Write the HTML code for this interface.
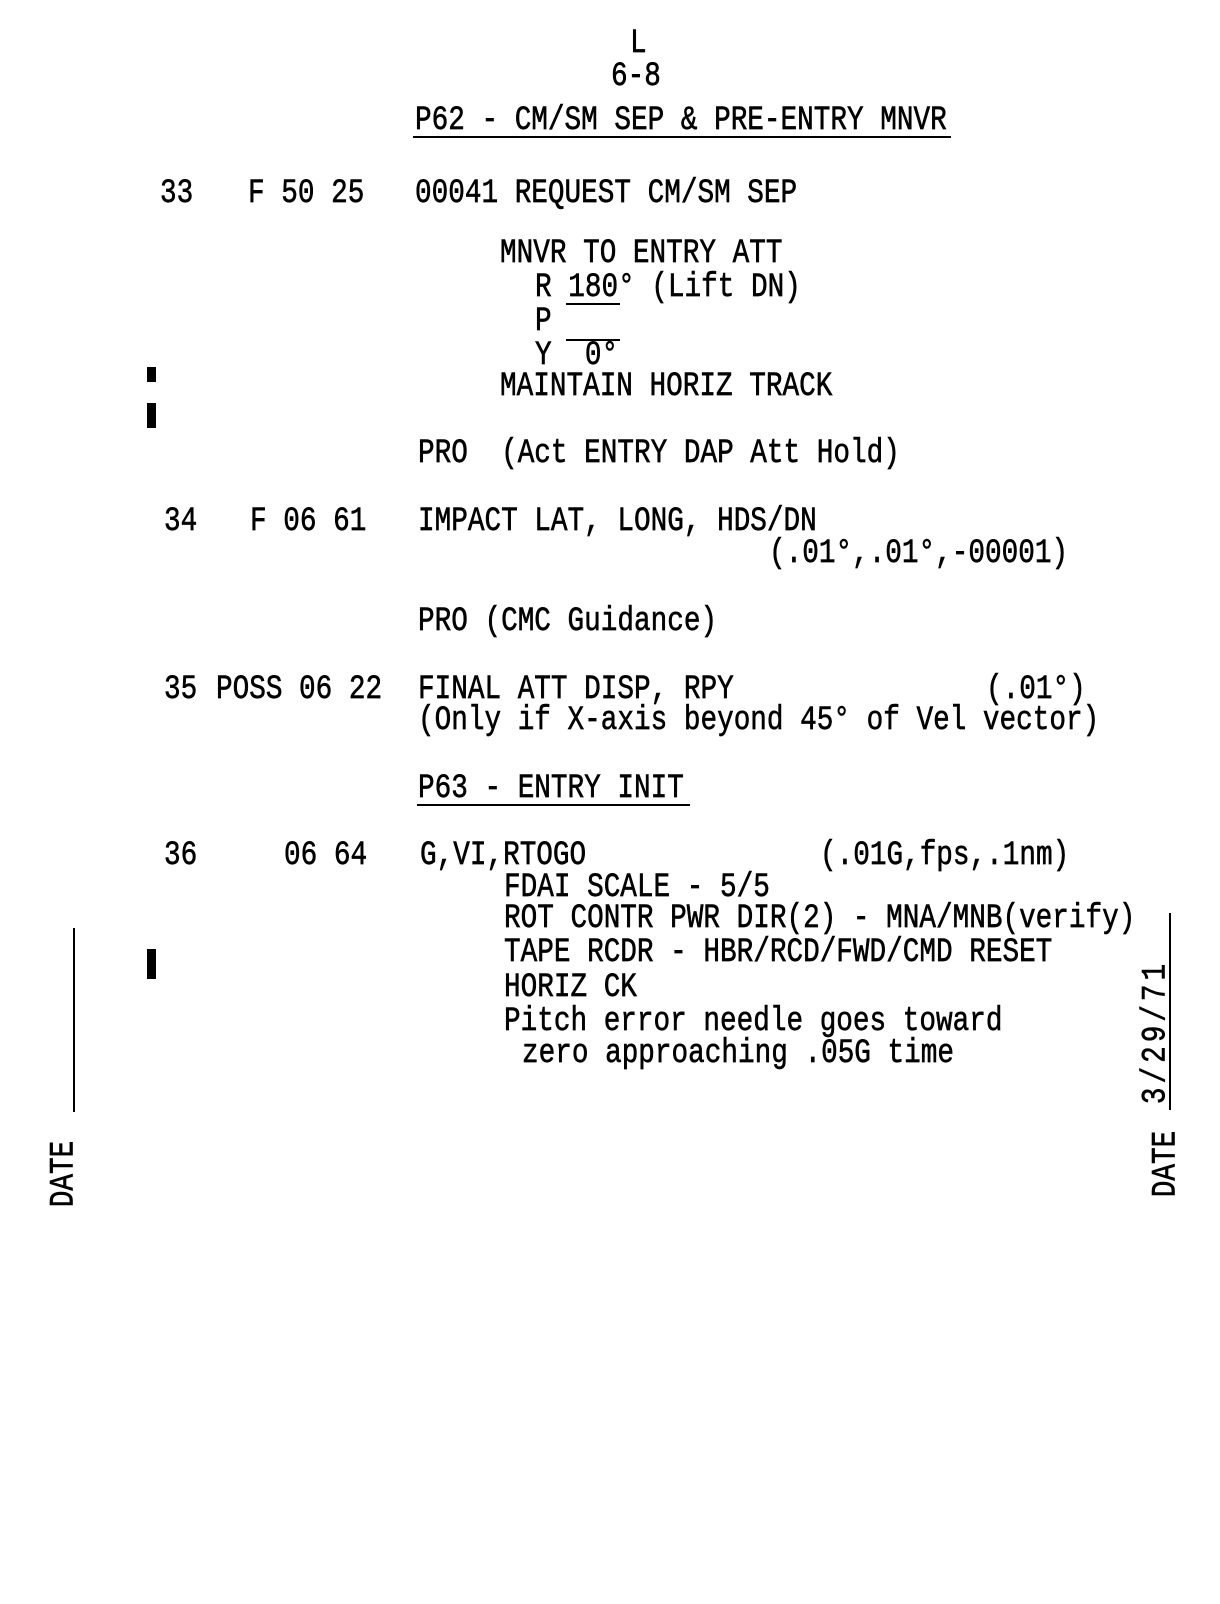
<!DOCTYPE html>
<html><head><meta charset="utf-8"><style>
html,body{margin:0;padding:0;background:#fff}
body{width:1220px;height:1604px;position:relative;overflow:hidden}
.t{position:absolute;white-space:pre;font-family:"Liberation Mono",monospace;font-size:27.7px;line-height:28px;color:#000;-webkit-text-stroke:0.5px #000;transform:scaleY(1.25);transform-origin:0 0}
.r{position:absolute;white-space:pre;font-family:"Liberation Mono",monospace;font-size:27.7px;line-height:28px;color:#000;-webkit-text-stroke:0.5px #000;transform:translate(-50%,-50%) rotate(-90deg) scaleY(1.25)}
.l{position:absolute;background:#000}
</style></head><body>
<div class="t" style="left:630px;top:27px">L</div>
<div class="t" style="left:611px;top:60px">6-8</div>
<div class="t" style="left:415px;top:104px">P62 - CM/SM SEP &amp; PRE-ENTRY MNVR</div>
<div class="l" style="left:413px;top:136px;width:538px;height:2px"></div>

<div class="t" style="left:160px;top:177px">33</div>
<div class="t" style="left:248px;top:177px">F 50 25</div>
<div class="t" style="left:415px;top:177px">00041 REQUEST CM/SM SEP</div>

<div class="t" style="left:500px;top:237px">MNVR TO ENTRY ATT</div>
<div class="t" style="left:535px;top:271px">R 180° (Lift DN)</div>
<div class="l" style="left:566px;top:303px;width:54px;height:2px"></div>
<div class="t" style="left:535px;top:305px">P</div>
<div class="l" style="left:566px;top:339px;width:54px;height:2px"></div>
<div class="t" style="left:535px;top:339px">Y  0°</div>
<div class="t" style="left:500px;top:370px">MAINTAIN HORIZ TRACK</div>

<div class="l" style="left:147px;top:367px;width:9px;height:15px"></div>
<div class="l" style="left:147px;top:403px;width:9px;height:25px"></div>

<div class="t" style="left:418px;top:437px">PRO  (Act ENTRY DAP Att Hold)</div>

<div class="t" style="left:164px;top:505px">34</div>
<div class="t" style="left:250px;top:505px">F 06 61</div>
<div class="t" style="left:418px;top:505px">IMPACT LAT, LONG, HDS/DN</div>
<div class="t" style="left:769px;top:537px">(.01°,.01°,-00001)</div>

<div class="t" style="left:418px;top:605px">PRO (CMC Guidance)</div>

<div class="t" style="left:164px;top:673px">35</div>
<div class="t" style="left:216px;top:673px">POSS</div>
<div class="t" style="left:299px;top:673px">06 22</div>
<div class="t" style="left:418px;top:673px">FINAL ATT DISP, RPY</div>
<div class="t" style="left:986px;top:673px">(.01°)</div>
<div class="t" style="left:418px;top:704px">(Only if X-axis beyond 45° of Vel vector)</div>

<div class="t" style="left:418px;top:772px">P63 - ENTRY INIT</div>
<div class="l" style="left:417px;top:804px;width:273px;height:2px"></div>

<div class="t" style="left:164px;top:839px">36</div>
<div class="t" style="left:284px;top:839px">06 64</div>
<div class="t" style="left:420px;top:839px">G,VI,RTOGO</div>
<div class="t" style="left:820px;top:839px">(.01G,fps,.1nm)</div>
<div class="t" style="left:504px;top:871px">FDAI SCALE - 5/5</div>
<div class="t" style="left:504px;top:902px">ROT CONTR PWR DIR(2) - MNA/MNB(verify)</div>
<div class="t" style="left:504px;top:936px">TAPE RCDR - HBR/RCD/FWD/CMD RESET</div>
<div class="t" style="left:504px;top:971px">HORIZ CK</div>
<div class="t" style="left:504px;top:1005px">Pitch error needle goes toward</div>
<div class="t" style="left:522px;top:1037px">zero approaching .05G time</div>

<div class="l" style="left:147px;top:949px;width:9px;height:30px"></div>

<div class="l" style="left:73px;top:928px;width:2px;height:184px"></div>
<div class="r" style="left:65px;top:1174px">DATE</div>

<div class="l" style="left:1169px;top:913px;width:2px;height:197px"></div>
<div class="r" style="left:1157px;top:1032px;letter-spacing:4px">3/29/71</div>
<div class="r" style="left:1167px;top:1164px">DATE</div>
</body></html>
